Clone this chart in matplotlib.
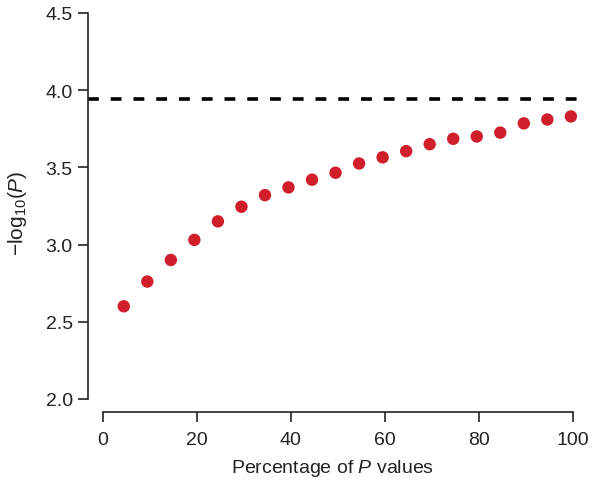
import matplotlib
matplotlib.use('Agg')
import matplotlib.pyplot as plt

plt.rcParams['font.family'] = ['Liberation Sans', 'DejaVu Sans']
plt.rcParams['mathtext.fontset'] = 'custom'
plt.rcParams['mathtext.rm'] = 'Liberation Sans'
plt.rcParams['mathtext.it'] = 'Liberation Sans:italic'

# percentage of P values (x) and -log10(P) (y)
pct = [4.5, 9.5, 14.5, 19.5, 24.5, 29.5, 34.5, 39.5, 44.5, 49.5,
       54.5, 59.5, 64.5, 69.5, 74.5, 79.5, 84.5, 89.5, 94.5, 99.5]
neglogp = [2.60, 2.76, 2.90, 3.03, 3.15, 3.245, 3.32, 3.37, 3.42, 3.465,
           3.525, 3.565, 3.605, 3.65, 3.685, 3.70, 3.725, 3.785, 3.81, 3.83]
threshold = 3.94

xticks = [0, 20, 40, 60, 80, 100]
yticks = [2.0, 2.5, 3.0, 3.5, 4.0, 4.5]

textcol = '#222222'

fig = plt.figure(figsize=(6.02, 4.81), dpi=100)
ax = fig.add_axes([88 / 602, 1 - 413 / 481, 489 / 602, 399 / 481])

ax.axhline(threshold, color='black', lw=2.6, dashes=(3.0, 3.3), zorder=1)
ax.scatter(pct, neglogp, s=80, color='#d01f2b', edgecolors='none', zorder=2)

ax.set_xlim(-3.1, 100.8)
ax.set_ylim(1.915, 4.5)

for side in ['top', 'right']:
    ax.spines[side].set_visible(False)
ax.spines['left'].set_bounds(2.0, 4.5)
ax.spines['bottom'].set_bounds(0, 100)
for side in ['left', 'bottom']:
    ax.spines[side].set_linewidth(1.2)
    ax.spines[side].set_color(textcol)

ax.set_xticks(xticks)
ax.set_yticks(yticks)
ax.set_yticklabels(['%.1f' % v for v in yticks])
ax.tick_params(axis='both', direction='out', length=7, width=1.2,
               color=textcol, labelcolor=textcol, labelsize=14)
ax.tick_params(axis='x', pad=7)
ax.tick_params(axis='y', pad=4)

ax.set_xlabel('Percentage of $P$ values', fontsize=14, color=textcol, labelpad=6)
ax.set_ylabel(r'$-\mathrm{log}_{10}(P)$', fontsize=15, color=textcol, labelpad=12)

fig.savefig('out.png', dpi=100)
